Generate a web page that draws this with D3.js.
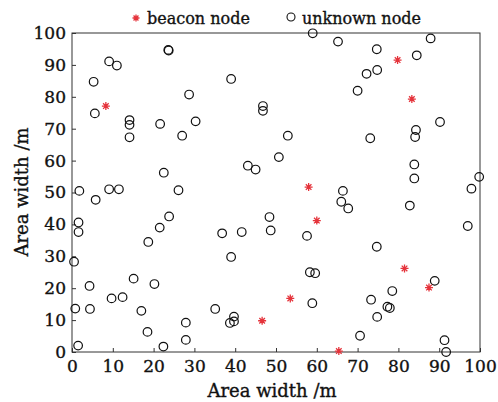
<!DOCTYPE html>
<html>
<head>
<meta charset="utf-8">
<script src="https://cdn.jsdelivr.net/npm/d3@7"></script>
<style>
  body { margin: 0; background: #fff; }
  text { font-family: "DejaVu Serif", serif; fill: #111; stroke: #111; stroke-width: 0.35px; }
</style>
</head>
<body>
<div id="chart"></div>
<script>
// beacon nodes (x, y in m)
var beaconX = [79.8, 83.3, 8.3, 58.0, 60.0, 81.5, 87.5, 53.5, 46.6, 65.4];
var beaconY = [91.5, 79.3, 77.1, 51.7, 41.2, 26.2, 20.2, 16.8, 9.8, 0.3];

// unknown nodes
var unknownX = [59.0, 65.2, 87.9, 74.7, 84.5, 23.6, 23.7, 9.1, 11.0, 5.3, 39.0, 72.2, 74.8, 70.0, 28.7, 5.6, 14.1, 14.1, 21.6, 30.3, 46.8, 46.8, 90.2,
  14.1, 27.0, 52.9, 73.1, 84.3, 84.1, 43.1, 45.0, 50.7, 83.9, 83.9, 99.8, 97.9, 22.5, 1.8, 5.8, 9.1, 11.5, 26.1, 66.4, 66.0, 67.7, 82.8,
  1.6, 1.6, 21.5, 23.8, 48.4, 48.7, 36.8, 41.6, 57.6, 97.0, 18.7, 74.7,
  0.5, 39.0, 58.3, 59.6, 88.9, 4.3, 15.1, 20.2, 9.7, 12.4, 78.5, 73.3, 58.9, 0.8, 4.4, 17.0, 35.1, 77.3, 77.9, 74.8, 39.7, 38.7, 39.7,
  27.9, 18.5, 27.9, 70.6, 91.3, 91.7, 1.5, 22.4];
var unknownY = [99.9, 97.3, 98.3, 94.9, 93.0, 94.7, 94.5, 91.1, 89.8, 84.7, 85.6, 87.2, 88.4, 81.9, 80.7, 74.8, 72.7, 71.2, 71.5, 72.3, 77.1, 75.6, 72.1,
  67.3, 67.8, 67.8, 67.0, 69.6, 67.4, 58.4, 57.2, 61.1, 58.8, 54.4, 54.9, 51.2, 56.2, 50.5, 47.7, 51.0, 51.0, 50.7, 50.5, 47.1, 45.0, 45.9,
  40.6, 37.6, 39.0, 42.5, 42.3, 38.1, 37.2, 37.6, 36.4, 39.5, 34.5, 33.0,
  28.3, 29.8, 25.0, 24.7, 22.3, 20.7, 23.0, 21.3, 16.8, 17.2, 19.1, 16.4, 15.3, 13.6, 13.5, 12.9, 13.5, 14.2, 13.8, 11.0, 11.1, 9.1, 9.6,
  9.2, 6.3, 3.8, 5.1, 3.7, 0.0, 2.0, 1.7];

var xTicks = [0, 10, 20, 30, 40, 50, 60, 70, 80, 90, 100];
var yTicks = [0, 10, 20, 30, 40, 50, 60, 70, 80, 90, 100];

var width = 498, height = 402;
var margin = {top: 33, right: 18, bottom: 50, left: 72};

var svg = d3.select("#chart").append("svg")
    .attr("width", width)
    .attr("height", height);

var x = d3.scaleLinear().domain([0, 100]).range([margin.left, width - margin.right]);
var y = d3.scaleLinear().domain([0, 100]).range([height - margin.bottom, margin.top]);

// axes, ticks pointing inward
var xAxis = svg.append("g")
    .attr("transform", "translate(0," + (height - margin.bottom) + ")")
    .call(d3.axisBottom(x).tickValues(xTicks).tickSizeInner(-4).tickSizeOuter(0).tickPadding(8));
var yAxis = svg.append("g")
    .attr("transform", "translate(" + margin.left + ",0)")
    .call(d3.axisLeft(y).tickValues(yTicks).tickSizeInner(-4).tickSizeOuter(0).tickPadding(6));

[xAxis, yAxis].forEach(function(a) {
  a.select(".domain").remove();
  a.selectAll("line").attr("stroke", "#333");
  a.selectAll("text")
    .style("font-family", "DejaVu Serif, serif")
    .style("font-size", "17px")
    .attr("fill", "#111");
});

// box
svg.append("rect")
  .attr("x", x(0)).attr("y", y(100))
  .attr("width", x(100) - x(0)).attr("height", y(0) - y(100))
  .attr("fill", "none").attr("stroke", "#333").attr("stroke-width", 1);

// unknown nodes
svg.append("g").selectAll("circle")
  .data(unknownX.map(function(d, i) { return [d, unknownY[i]]; }))
  .enter().append("circle")
  .attr("cx", function(d) { return x(d[0]); })
  .attr("cy", function(d) { return y(d[1]); })
  .attr("r", 4.3)
  .attr("fill", "none")
  .attr("stroke", "#111")
  .attr("stroke-width", 1.2);

// beacon asterisks
function star(g, cx, cy, s) {
  var a = s * 0.7;
  g.append("path")
    .attr("d", "M" + (cx - s) + "," + cy + "H" + (cx + s) +
               "M" + cx + "," + (cy - s) + "V" + (cy + s) +
               "M" + (cx - a) + "," + (cy - a) + "L" + (cx + a) + "," + (cy + a) +
               "M" + (cx - a) + "," + (cy + a) + "L" + (cx + a) + "," + (cy - a))
    .attr("stroke", "#e5333b")
    .attr("stroke-width", 1.3)
    .attr("fill", "none");
}
var bg = svg.append("g");
beaconX.forEach(function(d, i) { star(bg, x(d), y(beaconY[i]), 4); });

// legend
var leg = svg.append("g");
star(leg, 136, 18, 3.5);
leg.append("text").attr("x", 147).attr("y", 24).style("font-size", "16px").text("beacon node");
leg.append("circle").attr("cx", 291).attr("cy", 17).attr("r", 4)
  .attr("fill", "none").attr("stroke", "#111").attr("stroke-width", 1.1);
leg.append("text").attr("x", 302).attr("y", 24).style("font-size", "16px").text("unknown node");

// axis titles
svg.append("text")
  .attr("x", 272).attr("y", 397)
  .attr("text-anchor", "middle")
  .style("font-size", "18px")
  .text("Area width /m");
svg.append("text")
  .attr("transform", "translate(28," + 192 + ") rotate(-90)")
  .attr("text-anchor", "middle")
  .style("font-size", "18px")
  .text("Area width /m");
</script>
</body>
</html>
